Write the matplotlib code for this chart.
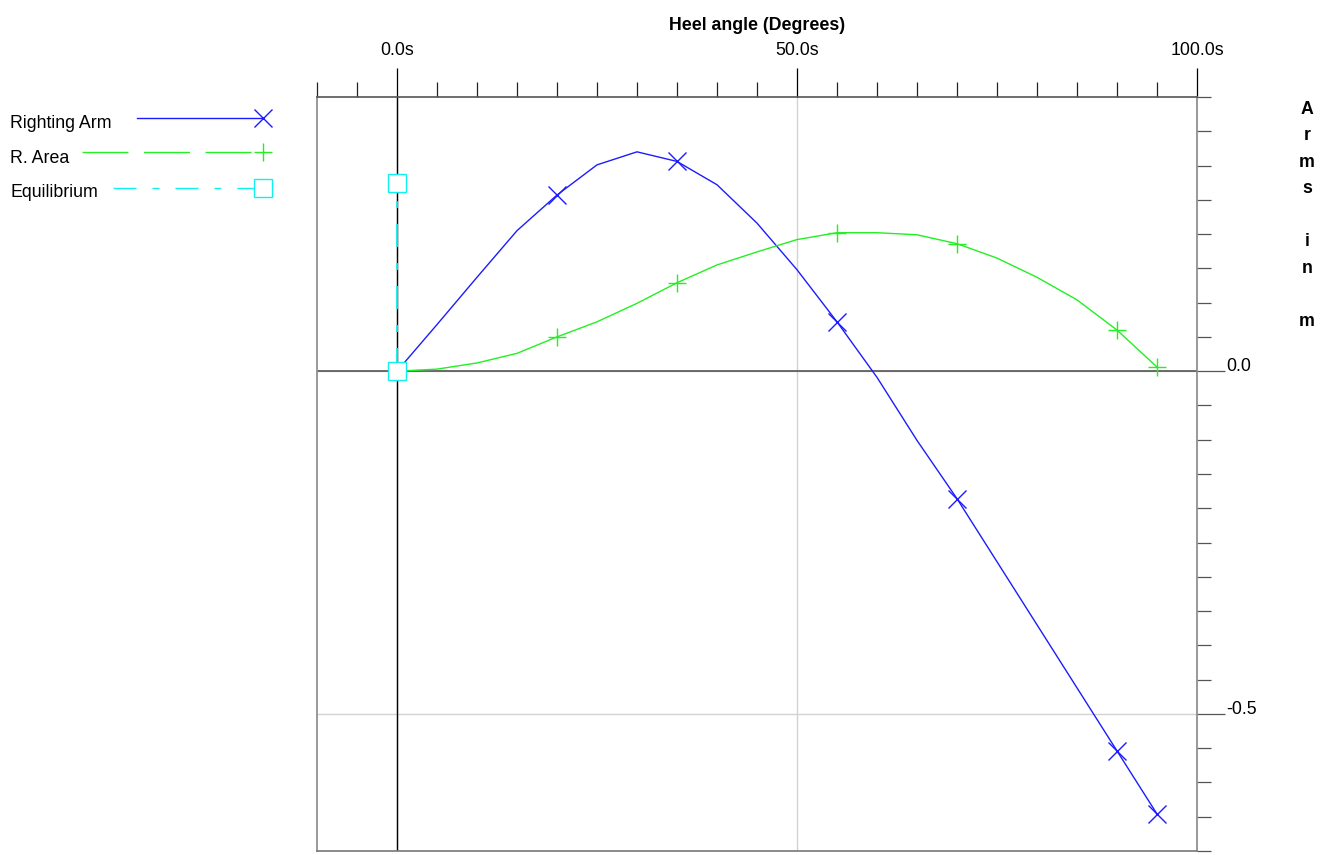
import matplotlib
matplotlib.use("Agg")
import matplotlib.pyplot as plt
from matplotlib.ticker import MultipleLocator, FuncFormatter

plt.rcParams['font.family'] = ['Liberation Sans', 'DejaVu Sans']
plt.rcParams['axes.unicode_minus'] = False
plt.rcParams['lines.scale_dashes'] = False

# Stability curve data (heel angle in degrees, arms in metres)
heel_deg = [0, 5, 10, 15, 20, 25, 30, 35, 40, 45,
            50, 55, 60, 65, 70, 75, 80, 85, 90, 95]
righting_arm = [0.000, 0.068, 0.137, 0.205, 0.257, 0.301, 0.320, 0.306, 0.272, 0.216,
                0.148, 0.072, -0.009, -0.101, -0.186, -0.278, -0.370, -0.462, -0.554, -0.646]
righting_area = [0.000, 0.003, 0.012, 0.026, 0.050, 0.072, 0.099, 0.129, 0.155, 0.174,
                 0.192, 0.202, 0.202, 0.199, 0.186, 0.165, 0.137, 0.104, 0.060, 0.006]
marked_angles = [20, 35, 55, 70, 90, 95]
equilibrium_x = [0, 0]
equilibrium_y = [0.0, 0.275]

series_names = ["Righting Arm", "R. Area", "Equilibrium"]
x_title = "Heel angle (Degrees)"
y_title = "Arms in m"

BLUE = "#1c1cff"
GREEN = "#22f022"
CYAN = "#11f0f0"
EQ_DASHES = (16.6, 11.5, 5.0, 11.5)
AREA_DASHES = (33.1, 11.2)

W, H = 1333, 855
fig = plt.figure(figsize=(W / 100, H / 100), dpi=100)
ax = fig.add_axes([317 / W, 1 - 851 / H, 880 / W, 754 / H])

mark_idx = [heel_deg.index(a) for a in marked_angles]

ax.axvline(0, color="black", lw=1.0, zorder=2)
ax.axhline(0, color="#555555", lw=1.2, zorder=2)

ax.plot(heel_deg, righting_arm, color=BLUE, lw=1.0, marker="x", ms=13, mew=1.0,
        markevery=mark_idx, zorder=4, label=series_names[0])
ax.plot(heel_deg, righting_area, color=GREEN, lw=1.0, marker="+", ms=13, mew=1.0,
        markevery=mark_idx, zorder=4, label=series_names[1])
ax.plot(equilibrium_x, equilibrium_y, color=CYAN, lw=1.3, dashes=EQ_DASHES,
        marker="s", ms=13, mew=1.0, mfc="white", mec=CYAN, zorder=5,
        label=series_names[2])

ax.set_xlim(-10, 100)
ax.set_ylim(-0.7, 0.4)

ax.grid(True, which="major", color="#d2d2d2", lw=1.0)
ax.set_axisbelow(True)

ax.spines["left"].set_color("#888888")
ax.spines["right"].set_color("#888888")
ax.spines["top"].set_color("#555555")
ax.spines["bottom"].set_color("#777777")
for s in ax.spines.values():
    s.set_linewidth(1.2)

ax.xaxis.set_ticks_position("top")
ax.yaxis.set_ticks_position("right")
ax.xaxis.set_major_locator(MultipleLocator(50))
ax.xaxis.set_minor_locator(MultipleLocator(5))
ax.yaxis.set_major_locator(MultipleLocator(0.5))
ax.yaxis.set_minor_locator(MultipleLocator(0.05))
ax.xaxis.set_major_formatter(FuncFormatter(lambda v, p: f"{v + 0.0:.1f}s"))
ax.yaxis.set_major_formatter(FuncFormatter(lambda v, p: f"{(0.0 if abs(v) < 1e-9 else v):.1f}"))

ax.tick_params(axis="x", which="major", direction="out", length=20.9, width=0.9,
               color="black", pad=9.4, labelsize=12.75, top=True, bottom=False,
               labeltop=True, labelbottom=False)
ax.tick_params(axis="x", which="minor", direction="out", length=10.8, width=0.9,
               color="#222222", top=True, bottom=False)
ax.tick_params(axis="y", which="major", direction="out", length=20.2, width=0.9,
               color="#555555", pad=0.7, labelsize=12.75, right=True, left=False,
               labelright=True, labelleft=False)
ax.tick_params(axis="y", which="minor", direction="out", length=10.0, width=0.9,
               color="#555555", right=True, left=False)

for t in ax.get_xticklabels():
    t.set_va("baseline")
for t in ax.get_yticklabels():
    t.set_va("baseline")

# Axis titles
ax.xaxis.set_label_position("top")
ax.set_xlabel(x_title, fontsize=12.75, fontweight="bold")
ax.xaxis.set_label_coords(0.5, 1.089)

# Right-hand title written as a vertical column of letters
stacked = "\n".join("" if ch == " " else ch for ch in y_title)
ax.yaxis.set_label_position("right")
ax.set_ylabel(stacked, fontsize=12.75, fontweight="bold", rotation=0,
              ha="center", va="top", multialignment="center", linespacing=1.734)
ax.yaxis.set_label_coords(1.125, 0.9953)

# Legend drawn to the left of the plot area, text first then the line sample
lax = fig.add_axes([0, 0, 1, 1])
lax.set_xlim(0, W)
lax.set_ylim(H, 0)
lax.axis("off")
lax.patch.set_visible(False)

rows = [
    (series_names[0], 128, 118.3, 137, dict(color=BLUE, lw=1.0), dict(marker="x", color=BLUE)),
    (series_names[1], 163, 151.7, 82, dict(color=GREEN, lw=1.0, dashes=AREA_DASHES),
     dict(marker="+", color=GREEN)),
    (series_names[2], 197, 188.3, 113, dict(color=CYAN, lw=1.0, dashes=EQ_DASHES),
     dict(marker="s", color=CYAN, mfc="white", mec=CYAN)),
]
for name, base_y, line_y, x0, lstyle, mstyle in rows:
    lax.text(10, base_y, name, fontsize=12.75, ha="left", va="baseline")
    lax.plot([x0, 263], [line_y, line_y], **lstyle)
    lax.plot([263], [line_y], ls="none", ms=13, mew=1.0, **mstyle)

fig.savefig("out.png", dpi=100)
